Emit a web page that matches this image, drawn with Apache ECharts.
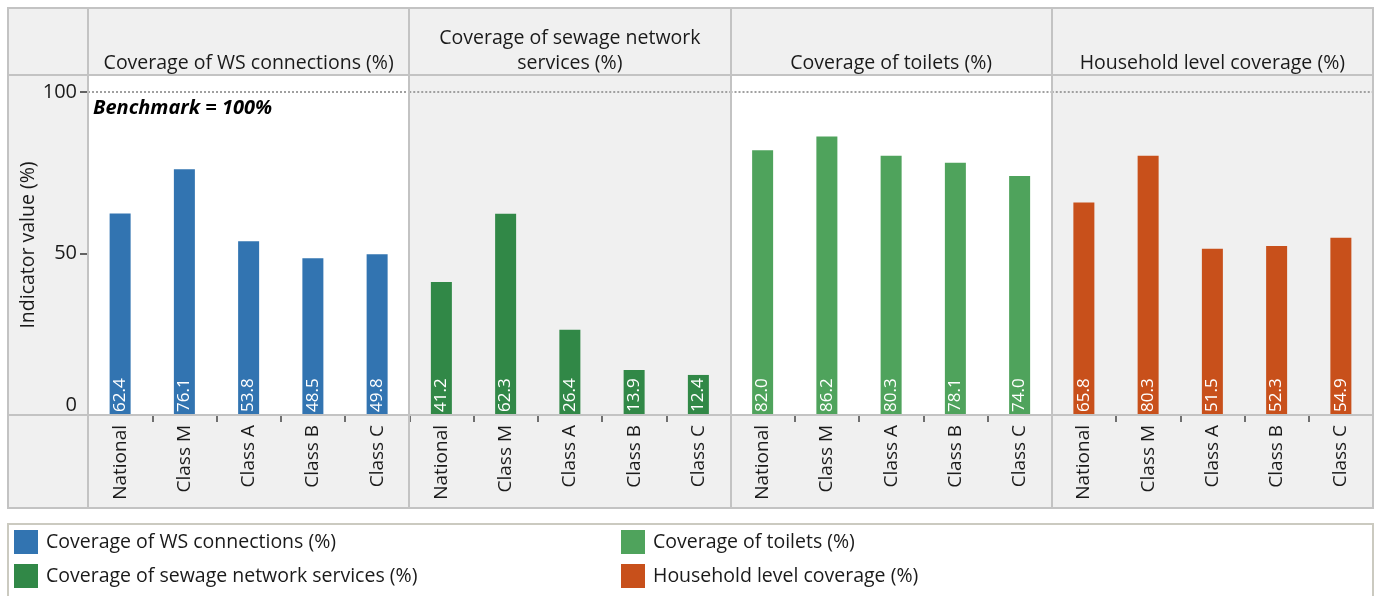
<!DOCTYPE html>
<html>
<head>
<meta charset="utf-8">
<script src="https://cdn.jsdelivr.net/npm/echarts@6/dist/echarts.min.js"></script>
<style>
  html, body { margin: 0; padding: 0; background: #ffffff; }
  #chart { width: 1377px; height: 596px; }
</style>
</head>
<body>
<div id="chart"></div>
<script>
// ---- data ----
const categories = ['National', 'Class M', 'Class A', 'Class B', 'Class C'];
const seriesNames = [
  'Coverage of WS connections (%)',
  'Coverage of sewage network services (%)',
  'Coverage of toilets (%)',
  'Household level coverage (%)'
];
const panelTitles = [
  'Coverage of WS connections (%)',
  'Coverage of sewage network\nservices (%)',
  'Coverage of toilets (%)',
  'Household level coverage (%)'
];
const wsValues = [62.4, 76.1, 53.8, 48.5, 49.8];
const sewageValues = [41.2, 62.3, 26.4, 13.9, 12.4];
const toiletValues = [82.0, 86.2, 80.3, 78.1, 74.0];
const householdValues = [65.8, 80.3, 51.5, 52.3, 54.9];
const yTickValues = [0, 50, 100];
const benchmarkValue = 100;
const benchmarkLabel = 'Benchmark = 100%';
const yAxisTitle = 'Indicator value (%)';

// ---- styling / layout ----
const allValues = [wsValues, sewageValues, toiletValues, householdValues];
const colors = ['#3274b1', '#318847', '#4fa35c', '#c8501b'];
const panelBg = ['#ffffff', '#f0f0f0', '#ffffff', '#f0f0f0'];
const FONT = 'Open Sans';
const frameL = 8, frameR = 1373, frameT = 8, frameB = 508;
const plotL = 88, plotT = 75, plotB = 415;
const panelW = (frameR - plotL) / 4;
const yMax = (plotB - plotT) / ((plotB - 92) / 100);
const lineColor = '#c3c3c3';
const TXT = '#1a1a1a';

const grids = [], xAxes = [], yAxes = [], series = [];
for (let i = 0; i < 4; i++) {
  grids.push({
    left: plotL + i * panelW, top: plotT, width: panelW, height: plotB - plotT,
    show: true, backgroundColor: panelBg[i], borderWidth: 0
  });
  xAxes.push({
    type: 'category', gridIndex: i, data: categories,
    axisLine: { show: false },
    axisTick: { show: true, length: 7, lineStyle: { color: '#444', width: 1.5 } },
    axisLabel: { interval: 0, rotate: 90, margin: 10, fontSize: 19, color: TXT, fontFamily: FONT }
  });
  const y = {
    type: 'value', gridIndex: i, min: 0, max: yMax, interval: 50,
    splitLine: { show: false }, axisLine: { show: false },
    axisTick: { show: false }, axisLabel: { show: false }
  };
  if (i === 0) {
    y.axisTick = { show: true, length: 8, lineStyle: { color: '#333', width: 1.5 }, customValues: [50, 100] };
    y.axisLabel = {
      show: true, customValues: yTickValues, margin: 11, fontSize: 20, color: TXT, fontFamily: FONT,
      verticalAlignMinLabel: 'bottom',
      formatter: v => (yTickValues.indexOf(v) >= 0 ? String(v) : '')
    };
    y.name = yAxisTitle;
    y.nameLocation = 'middle';
    y.nameGap = 50;
    y.nameTextStyle = { fontSize: 19.5, color: TXT, fontFamily: FONT };
  }
  yAxes.push(y);
  series.push({
    name: seriesNames[i], type: 'bar', xAxisIndex: i, yAxisIndex: i,
    data: allValues[i], barWidth: 21,
    itemStyle: { color: colors[i] },
    label: {
      show: true, position: 'insideBottom', rotate: 90, align: 'left', verticalAlign: 'middle',
      distance: 3, color: '#ffffff', fontSize: 17, fontFamily: FONT,
      formatter: p => p.value.toFixed(1)
    },
    markLine: {
      silent: true, symbol: 'none',
      lineStyle: { color: '#a0a0a0', type: [2, 2], width: 2 },
      data: [{ yAxis: benchmarkValue }],
      label: i === 0 ? {
        show: true, position: 'insideStartBottom', formatter: benchmarkLabel, distance: [5, 6],
        fontSize: 20, fontWeight: 'bold', fontStyle: 'italic', color: '#000', fontFamily: FONT
      } : { show: false }
    }
  });
}

const graphics = [];
graphics.push({ type: 'rect', z: -10, shape: { x: frameL, y: frameT, width: frameR - frameL, height: frameB - frameT }, style: { fill: '#f0f0f0' }, silent: true });
const lineStyle = { stroke: lineColor, lineWidth: 2 };
graphics.push({ type: 'rect', z: 50, shape: { x: frameL, y: frameT, width: frameR - frameL, height: frameB - frameT }, style: { fill: 'none', stroke: lineColor, lineWidth: 2 }, silent: true });
graphics.push({ type: 'line', z: 50, shape: { x1: frameL, y1: plotT, x2: frameR, y2: plotT }, style: lineStyle, silent: true });
graphics.push({ type: 'line', z: 50, shape: { x1: frameL, y1: plotB, x2: frameR, y2: plotB }, style: lineStyle, silent: true });
for (let i = 0; i < 4; i++) {
  const x = Math.round(plotL + i * panelW);
  graphics.push({ type: 'line', z: 50, shape: { x1: x, y1: frameT, x2: x, y2: frameB }, style: lineStyle, silent: true });
  graphics.push({
    type: 'text', z: 60, silent: true,
    x: plotL + (i + 0.5) * panelW, y: 76,
    style: { text: panelTitles[i], align: 'center', verticalAlign: 'bottom', fontSize: 19.5, lineHeight: 25, fill: TXT, fontFamily: FONT }
  });
}
graphics.push({ type: 'rect', z: 50, shape: { x: frameL, y: 524, width: frameR - frameL, height: 90 }, style: { fill: 'none', stroke: '#cbcac0', lineWidth: 2 }, silent: true });

const legendPos = [[14, 530], [14, 564], [621, 530], [621, 564]];
const legends = seriesNames.map((n, i) => ({
  data: [n], left: legendPos[i][0], top: legendPos[i][1], padding: 0,
  icon: 'rect', itemWidth: 24, itemHeight: 24, selectedMode: false,
  textStyle: { fontSize: 19.5, color: TXT, fontFamily: FONT, padding: [5, 0, 0, 3] }
}));

const chart = echarts.init(document.getElementById('chart'), null, { renderer: 'canvas' });
chart.setOption({
  animation: false,
  textStyle: { fontFamily: FONT },
  grid: grids, xAxis: xAxes, yAxis: yAxes, series: series,
  legend: legends, graphic: graphics
});
</script>
</body>
</html>
